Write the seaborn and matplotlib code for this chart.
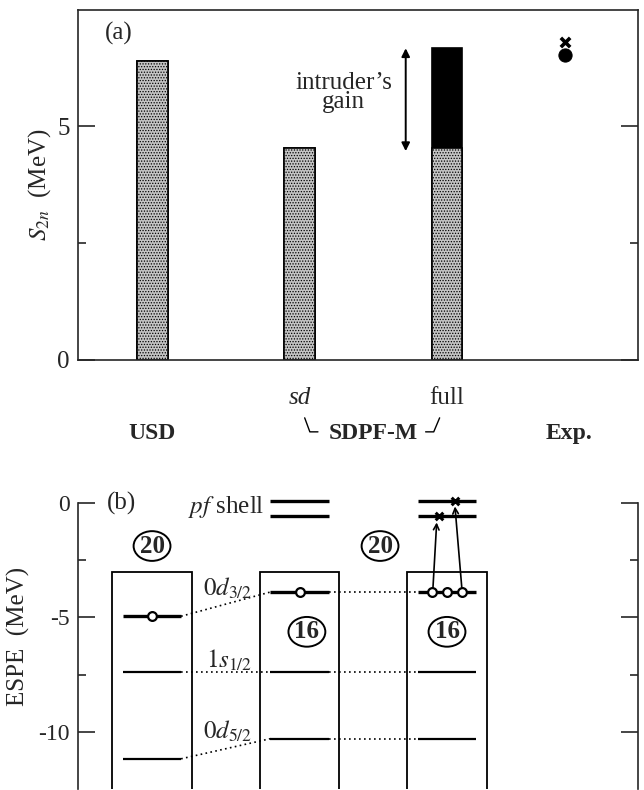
import matplotlib
matplotlib.use("Agg")
import matplotlib.pyplot as plt
import matplotlib.transforms as mtrans
from matplotlib.patches import Ellipse, Rectangle
import seaborn as sns
import pandas as pd

# ---------------- data ----------------
# panel (a): two-neutron separation energy S2n (MeV)
models = ["USD", "SDPF-M sd", "SDPF-M full"]
model_pos = [0, 1, 2]
s2n_base = [6.39, 4.53, 4.53]      # stippled part
s2n_total = [6.39, 4.53, 6.67]     # incl. intruder's gain (black)
exp_pos = [2.8]
exp_circle = [6.52]
exp_cross = [6.80]
labels_top = ["sd", "full"]
labels_bottom = ["USD", "SDPF-M", "Exp."]

# panel (b): effective single-particle energies (MeV)
espe_d32 = [-4.95, -3.89, -3.89]
espe_s12 = [-7.38, -7.38, -7.38]
espe_d52 = [-11.18, -10.30, -10.30]
pf_levels = [0.08, -0.57]
box_top = -3.0
hole_x = [0, 1, 1.9, 2.0, 2.1]
hole_y = [-4.95, -3.89, -3.89, -3.89, -3.89]
cross_x = [1.946, 2.054]
cross_y = [-0.57, 0.08]
magic_20 = [(0.0, -1.88), (1.546, -1.88)]
magic_16 = [(1.05, -5.63), (2.0, -5.63)]

# ---------------- style ----------------
sns.set_theme(style="ticks")
plt.rcParams['font.family'] = ['Liberation Serif', 'DejaVu Serif']
plt.rcParams['mathtext.fontset'] = 'stix'
plt.rcParams['axes.unicode_minus'] = False
plt.rcParams['hatch.linewidth'] = 0.6
plt.rcParams['hatch.color'] = '#444444'

W, H = 644, 790
fig = plt.figure(figsize=(W / 100, H / 100), dpi=100)
XL = (-0.502, 3.295)

# ---------------- panel (a) ----------------
ax1 = fig.add_axes([78 / W, 1 - 360 / H, (638 - 78) / W, (360 - 9.5) / H])
df = pd.DataFrame({"pos": model_pos, "base": s2n_base, "total": s2n_total, "model": models})
sns.barplot(data=df, x="pos", y="total", native_scale=True, width=0.21, color="black",
            edgecolor="black", linewidth=1.2, errorbar=None, saturation=1, ax=ax1)
n0 = len(ax1.patches)
sns.barplot(data=df, x="pos", y="base", native_scale=True, width=0.21, color="#c4c4c4",
            edgecolor="black", linewidth=1.2, errorbar=None, saturation=1, ax=ax1)
for p in ax1.patches[n0:]:
    p.set_hatch("......")
sns.scatterplot(x=exp_pos, y=exp_circle, marker="o", s=90, color="black", edgecolor="black", ax=ax1, zorder=5)
sns.scatterplot(x=exp_pos, y=exp_cross, marker="x", s=45, color="black", linewidth=2.6, ax=ax1, zorder=5)

ax1.set_xlim(*XL)
ax1.set_ylim(0, 7.5)
ax1.set_xticks([])
ax1.set_yticks([0, 5])
ax1.set_yticks([2.5], minor=True)
ax1.tick_params(axis="y", which="major", direction="in", length=12, width=1.2, right=True,
                labelsize=18, pad=6)
ax1.tick_params(axis="y", which="minor", direction="in", length=6, width=1.2, right=True)
for s in ax1.spines.values():
    s.set_linewidth(1.2)
ax1.set_xlabel("")
ax1.set_ylabel("$S_{2n}$  (MeV)", fontsize=18, labelpad=3)

ax1.text(-0.32, 6.99, "(a)", fontsize=18, ha="left", va="center")
ax1.text(1.30, 5.72, "intruder\u2019s\ngain", fontsize=18, ha="center", va="center", linespacing=0.85)
ax1.annotate("", xy=(1.72, 6.67), xytext=(1.72, 4.47),
             arrowprops=dict(arrowstyle="<|-|>", color="black", lw=1.4, mutation_scale=12,
                             shrinkA=0, shrinkB=0))

tr = mtrans.blended_transform_factory(ax1.transData, ax1.transAxes)
ax1.text(model_pos[1], -0.108, labels_top[0], fontsize=18, style="italic", ha="center", va="center",
         transform=tr)
ax1.text(model_pos[2], -0.108, labels_top[1], fontsize=18, ha="center", va="center", transform=tr)
for x, lab in zip([model_pos[0], 1.5, exp_pos[0] + 0.03], labels_bottom):
    ax1.text(x, -0.21, lab, fontsize=17, weight="bold", ha="center", va="center", transform=tr)
ax1.plot([1.035, 1.07, 1.125], [-0.165, -0.205, -0.205], color="black", lw=1.0, transform=tr,
         clip_on=False)
ax1.plot([1.855, 1.91, 1.95], [-0.205, -0.205, -0.165], color="black", lw=1.0, transform=tr,
         clip_on=False)

# ---------------- panel (b) ----------------
ax2 = fig.add_axes([78 / W, 1 - 789 / H, (638 - 78) / W, (789 - 484.7) / H])
ax2.set_xlim(*XL)
ax2.set_ylim(-12.5, 0.8)
for side in ["top", "bottom"]:
    ax2.spines[side].set_visible(False)
for side in ["left", "right"]:
    ax2.spines[side].set_bounds(-12.5, 0)
    ax2.spines[side].set_linewidth(1.2)
ax2.set_xticks([])
ax2.set_yticks([0, -5, -10])
ax2.set_yticks([-2.5, -7.5], minor=True)
ax2.tick_params(axis="y", which="major", direction="in", length=12, width=1.2, right=True,
                labelsize=17, pad=6)
ax2.tick_params(axis="y", which="minor", direction="in", length=6, width=1.2, right=True)
ax2.set_ylabel("ESPE  (MeV)", fontsize=18, labelpad=6)

hw_box, hw_lvl = 0.271, 0.197
for x in model_pos:
    ax2.add_patch(Rectangle((x - hw_box, -20), 2 * hw_box, 20 + box_top, fill=False,
                            edgecolor="black", lw=1.3))

for levels, lw in [(espe_d32, 2.4), (espe_s12, 1.6), (espe_d52, 1.6)]:
    ax2.hlines(levels, [x - hw_lvl for x in model_pos], [x + hw_lvl for x in model_pos],
               color="black", lw=lw, zorder=3)
    for i in range(2):
        ax2.plot([model_pos[i] + hw_lvl, model_pos[i + 1] - hw_lvl], [levels[i], levels[i + 1]],
                 ls=(0, (1, 2)), color="black", lw=1.2)

for x in model_pos[1:]:
    ax2.hlines(pf_levels, x - hw_lvl, x + hw_lvl, color="black", lw=2.4)

ax2.annotate("", xy=(1.93, -0.85), xytext=(1.905, -3.68),
             arrowprops=dict(arrowstyle="->", color="black", lw=1.2, shrinkA=0, shrinkB=0,
                             mutation_scale=10))
ax2.annotate("", xy=(2.054, -0.15), xytext=(2.10, -3.68),
             arrowprops=dict(arrowstyle="->", color="black", lw=1.2, shrinkA=0, shrinkB=0,
                             mutation_scale=10))
sns.scatterplot(x=hole_x, y=hole_y, marker="o", s=40, facecolor="white", edgecolor="black",
                linewidth=1.6, ax=ax2, zorder=5)
sns.scatterplot(x=cross_x, y=cross_y, marker="x", s=30, color="black", linewidth=2.2, ax=ax2,
                zorder=5)

for (x, y), lab in [(p, "20") for p in magic_20] + [(p, "16") for p in magic_16]:
    ax2.add_patch(Ellipse((x, y), 0.25, 1.3, fill=False, edgecolor="black", lw=1.4))
    ax2.text(x, y, lab, fontsize=18, weight="bold", ha="center", va="center")

ax2.text(-0.21, 0.0, "(b)", fontsize=18, ha="center", va="center")
ax2.text(0.765, -0.17, "$pf$ shell", fontsize=18, ha="right", va="center")
ax2.text(0.68, -3.71, "$0d_{3/2}$", fontsize=18, ha="right", va="center")
ax2.text(0.68, -6.86, "$1s_{1/2}$", fontsize=18, ha="right", va="center")
ax2.text(0.68, -9.96, "$0d_{5/2}$", fontsize=18, ha="right", va="center")

fig.savefig("out.png", dpi=100, facecolor="white")
